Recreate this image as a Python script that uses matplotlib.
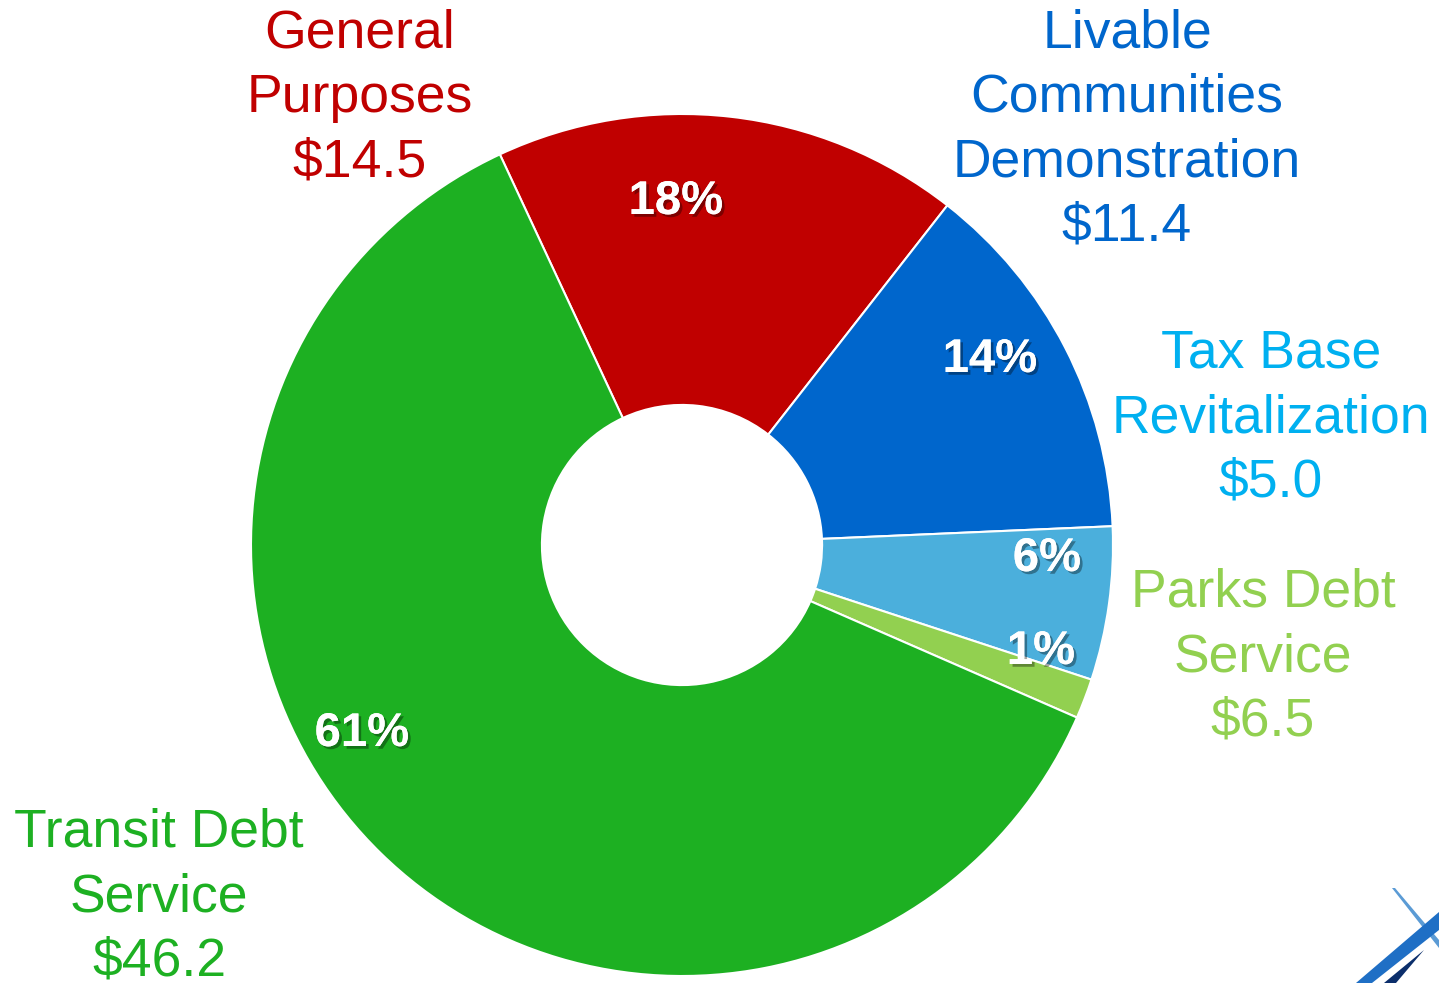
import matplotlib
matplotlib.use("Agg")
import matplotlib.pyplot as plt
import matplotlib.patheffects as pe
from matplotlib.patches import Polygon
import numpy as np

plt.rcParams['font.family'] = ['Liberation Sans', 'DejaVu Sans']

# data (slice shares in %, dollar labels as printed)
categories = ['General\nPurposes', 'Livable\nCommunities\nDemonstration',
              'Tax Base\nRevitalization', 'Parks Debt\nService', 'Transit Debt\nService']
amounts = ['$14.5', '$11.4', '$5.0', '$6.5', '$46.2']
shares = [17.5, 13.75, 5.75, 1.5, 61.5]
pct_labels = ['18%', '14%', '6%', '1%', '61%']

slice_colors = ['#C00000', '#0066CC', '#4BAFDC', '#92D050', '#1DB022']
text_colors = ['#C00000', '#0066CC', '#00B0F0', '#92D050', '#1DB022']

W, H = 1439, 983
cx, cy, R = 682, 545, 431   # pie centre / radius in pixels

fig = plt.figure(figsize=(W / 100, H / 100), dpi=100)
ax = fig.add_axes([0, 0, 1, 1])

wedges, _ = ax.pie(shares, colors=slice_colors, startangle=115, counterclock=False,
                   radius=1.0, wedgeprops=dict(width=0.675, edgecolor='white', linewidth=1.5))

ax.set_xlim(-cx / R, (W - cx) / R)
ax.set_ylim(-(H - cy) / R, cy / R)
ax.set_aspect('equal')
ax.axis('off')

def px(x, y):
    return (x - cx) / R, (cy - y) / R

# percentage labels (placed by hand like the original)
pct_pos = [(676, 202), (990, 360), (1047, 559), (1041, 652), (362, 734)]
shadow = [pe.withSimplePatchShadow(offset=(2, -2), shadow_rgbFace='black', alpha=0.35), pe.Normal()]
for lab, (x, y) in zip(pct_labels, pct_pos):
    ax.text(*px(x, y), lab, color='white', fontsize=34, fontweight='bold',
            ha='center', va='center', path_effects=shadow)

# outer category labels
lab_pos = [(360, 98), (1127, 130), (1271, 418), (1263, 657), (159, 897)]
for cat, amt, col, (x, y) in zip(categories, amounts, text_colors, lab_pos):
    ax.text(*px(x, y), cat + '\n' + amt, color=col, fontsize=38.5,
            ha='center', va='center', linespacing=1.36)

# bits of the logo peeking in at the bottom right corner
logo = [
    ([(1392, 888), (1395, 888), (1439, 940), (1439, 948)], '#5B9BD5'),
    ([(1356, 983), (1439, 912), (1439, 930), (1372, 983)], '#1F6FC5'),
    ([(1384, 983), (1424, 950), (1396, 983)], '#0B2E6B'),
]
for pts, col in logo:
    ax.add_patch(Polygon([px(x, y) for x, y in pts], closed=True, color=col, lw=0))

fig.savefig('out.png', dpi=100)
